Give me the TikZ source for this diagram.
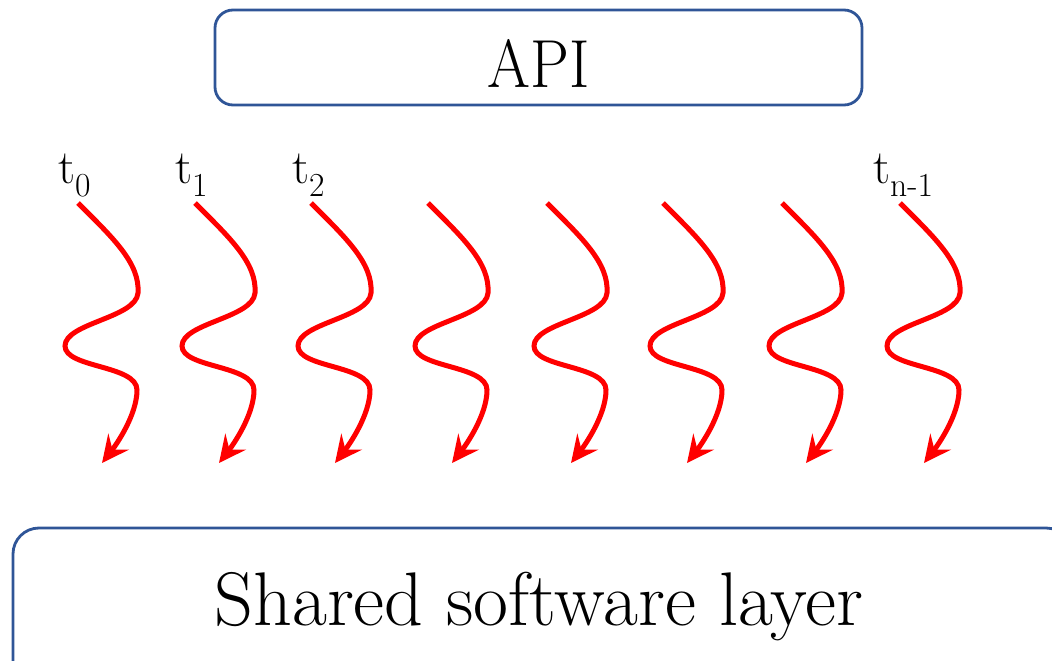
\documentclass[tikz,border=0pt]{standalone}
\usepackage{graphicx}
\usetikzlibrary{arrows.meta}
\definecolor{boxblue}{HTML}{2F5597}
\tikzset{
  layerbox/.style={draw=boxblue, line width=2.8pt, rounded corners=18pt},
  thread/.style={draw=red, line width=5pt, -{Stealth[length=27pt, width=26pt, inset=10pt]}},
  tlabel/.style={inner sep=0pt, anchor=base west, font=\fontsize{48}{48}\selectfont}
}
\begin{document}
\begin{tikzpicture}[x=1pt, y=-1pt]
  \useasboundingbox (0,0) rectangle (1052,661);
  \clip (0,0) rectangle (1052,661);

  % API box
  \draw[layerbox] (215,10) rectangle (862,105);
  \node[font=\fontsize{68}{68}\selectfont, inner sep=0pt, anchor=base] (api) at (539,87) {\scalebox{0.91}[1]{API}};

  % shared layer box, running past the right and bottom edges
  \draw[layerbox, rounded corners=26pt] (13,528) rectangle (1072,690);
  \node[font=\fontsize{76}{76}\selectfont, inner sep=0pt, anchor=base] (shared) at (539,625) {Shared software layer};

  % thread labels
  \node[tlabel] (t0) at (58,183) {t\textsubscript{0}};
  \node[tlabel] (t1) at (175,183) {t\textsubscript{1}};
  \node[tlabel] (t2) at (292,183) {t\textsubscript{2}};
  \node[tlabel] (tn) at (873,183) {t\textsubscript{n-1}};

  % wavy thread arrows
  \foreach \i/\x in {0/78, 1/195, 2/311, 3/428, 4/547, 5/663, 6/782, 7/900} {
    \coordinate (s\i) at (\x,203);
    \draw[thread] (s\i)
      .. controls ++(35,35) and ++(2,-30) .. ++(60,90)
      .. controls ++(-2,25) and ++(0,-23) .. ++(-73,53)
      .. controls ++(0,22) and ++(0,-25) .. ++(72,44)
      .. controls ++(0,25) and ++(14,-18) .. ++(-35,73);
  }
\end{tikzpicture}
\end{document}
